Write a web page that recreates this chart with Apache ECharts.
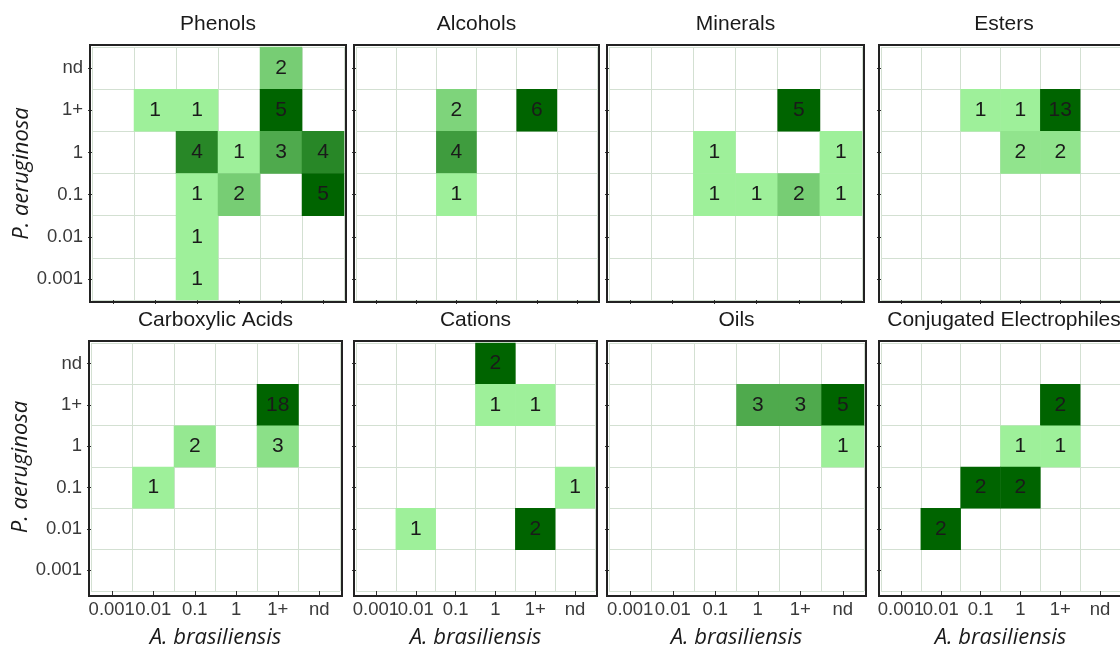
<!DOCTYPE html>
<html>
<head>
<meta charset="utf-8">
<script src="https://cdn.jsdelivr.net/npm/echarts@6/dist/echarts.min.js"></script>
<style>
  html, body { margin: 0; padding: 0; background: #fff; }
  #chart { width: 1120px; height: 650px; }
</style>
</head>
<body>
<div id="chart"></div>
<script>
const xCats = ['0.001', '0.01', '0.1', '1', '1+', 'nd']
const yCats = ['0.001', '0.01', '0.1', '1', '1+', 'nd']

const panelNames = ['Phenols', 'Alcohols', 'Minerals', 'Esters',
  'Carboxylic Acids', 'Cations', 'Oils', 'Conjugated Electrophiles']

// [A. brasiliensis, P. aeruginosa, count]
const phenols = [
  ['1+', 'nd', 2],
  ['0.01', '1+', 1], ['0.1', '1+', 1], ['1+', '1+', 5],
  ['0.1', '1', 4], ['1', '1', 1], ['1+', '1', 3], ['nd', '1', 4],
  ['0.1', '0.1', 1], ['1', '0.1', 2], ['nd', '0.1', 5],
  ['0.1', '0.01', 1],
  ['0.1', '0.001', 1]
]
const alcohols = [
  ['0.1', '1+', 2], ['1+', '1+', 6],
  ['0.1', '1', 4],
  ['0.1', '0.1', 1]
]
const minerals = [
  ['1+', '1+', 5],
  ['0.1', '1', 1], ['nd', '1', 1],
  ['0.1', '0.1', 1], ['1', '0.1', 1], ['1+', '0.1', 2], ['nd', '0.1', 1]
]
const esters = [
  ['0.1', '1+', 1], ['1', '1+', 1], ['1+', '1+', 13],
  ['1', '1', 2], ['1+', '1', 2]
]
const carboxylicAcids = [
  ['1+', '1+', 18],
  ['0.1', '1', 2], ['1+', '1', 3],
  ['0.01', '0.1', 1]
]
const cations = [
  ['1', 'nd', 2],
  ['1', '1+', 1], ['1+', '1+', 1],
  ['nd', '0.1', 1],
  ['0.01', '0.01', 1], ['1+', '0.01', 2]
]
const oils = [
  ['1', '1+', 3], ['1+', '1+', 3], ['nd', '1+', 5],
  ['nd', '1', 1]
]
const conjugatedElectrophiles = [
  ['1+', '1+', 2],
  ['1', '1', 1], ['1+', '1', 1],
  ['0.1', '0.1', 2], ['1', '0.1', 2],
  ['0.01', '0.01', 2]
]

const panelData = [phenols, alcohols, minerals, esters,
  carboxylicAcids, cations, oils, conjugatedElectrophiles]

// grid boxes: left, top, width, height
const boxes = [
  [92, 47, 252, 253], [356, 47, 241, 253], [609, 47, 253, 253], [881, 47, 246, 253],
  [91, 343, 249, 251], [356, 343, 239, 251], [609, 343, 255, 251], [881, 343, 246, 251]
]

const sans = 'Liberation Sans, Arial, sans-serif'
const chart = echarts.init(document.getElementById('chart'))

const grid = [], xAxis = [], yAxis = [], series = [], visualMap = [], title = [], graphic = []

const nameStyle = { fontFamily: 'Open Sans', fontStyle: 'italic', fontSize: 22, color: '#1a1a1a' }
const gridLine = { show: true, interval: 0, lineStyle: { color: '#d3e0d2', width: 1 } }
const tick = { show: true, interval: 0, alignWithLabel: true, length: 4, lineStyle: { color: '#333' } }
const tickLabel = { interval: 0, margin: 9, fontFamily: sans, fontSize: 18.5, color: '#3a3a3a' }

boxes.forEach(([left, top, width, height], i) => {
  const bottomRow = i >= 4
  const leftCol = i % 4 === 0
  grid.push({ left, top, width, height, show: false })
  title.push({
    text: panelNames[i],
    left: left + width / 2,
    top: top - 33,
    textAlign: 'center',
    padding: 0,
    textStyle: { fontFamily: sans, fontSize: 21, fontWeight: 'normal', color: '#1a1a1a' }
  })
  xAxis.push({
    type: 'category',
    gridIndex: i,
    data: xCats,
    name: bottomRow ? 'A. brasiliensis' : '',
    nameLocation: 'middle',
    nameGap: 36,
    nameTextStyle: nameStyle,
    axisLine: { show: false },
    axisTick: tick,
    axisLabel: { ...tickLabel, show: bottomRow },
    splitLine: gridLine
  })
  yAxis.push({
    type: 'category',
    gridIndex: i,
    data: yCats,
    name: leftCol ? 'P. aeruginosa' : '',
    nameLocation: 'middle',
    nameRotate: 90,
    nameGap: 53,
    nameTextStyle: nameStyle,
    axisLine: { show: false },
    axisTick: tick,
    axisLabel: { ...tickLabel, show: leftCol },
    splitLine: gridLine
  })
  series.push({
    type: 'heatmap',
    xAxisIndex: i,
    yAxisIndex: i,
    data: panelData[i],
    label: {
      show: true,
      formatter: p => p.value[2],
      fontFamily: sans,
      fontSize: 21,
      color: '#1a1a1a'
    },
    emphasis: { disabled: true }
  })
  visualMap.push({
    type: 'continuous',
    show: false,
    seriesIndex: i,
    dimension: 2,
    min: 1,
    max: Math.max(...panelData[i].map(d => d[2])),
    inRange: { color: ['#9ef09a', '#006400'] }
  })
  graphic.push({
    type: 'rect',
    z: 100,
    silent: true,
    shape: { x: left - 2, y: top - 2, width: width + 4, height: height + 4 },
    style: { fill: 'none', stroke: '#222', lineWidth: 2 }
  })
})

chart.setOption({
  animation: false,
  title, grid, xAxis, yAxis, series, visualMap, graphic
})
</script>
</body>
</html>
